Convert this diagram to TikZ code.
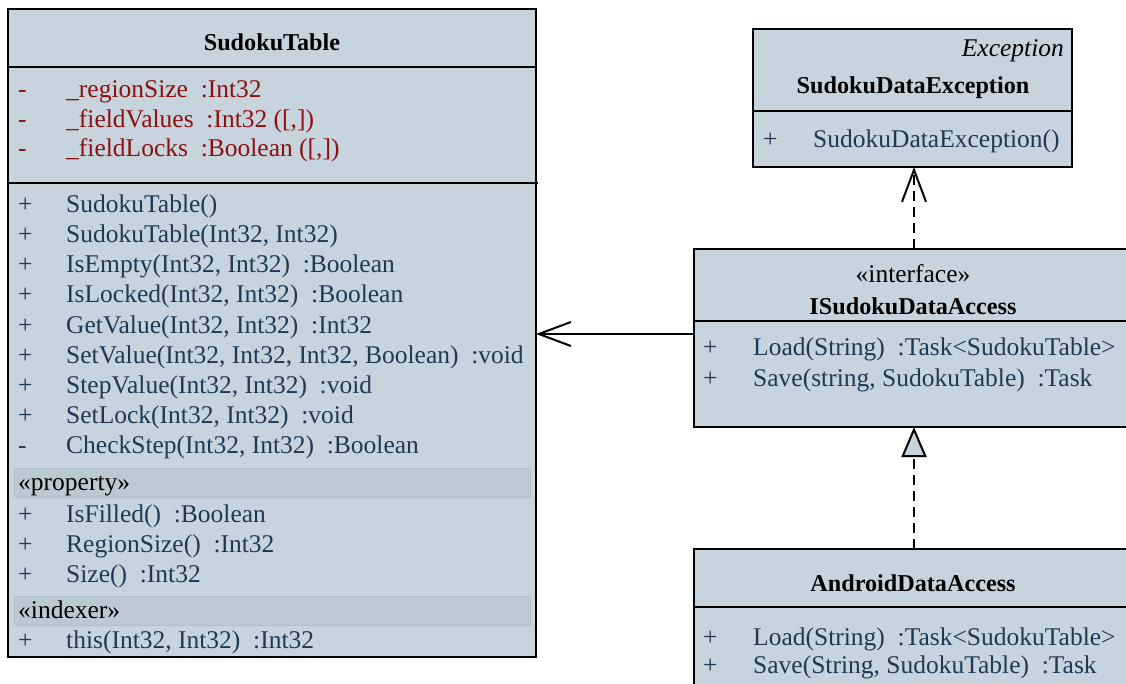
\documentclass[tikz,border=0pt]{standalone}
\usepackage{fontspec}
\setmainfont{Liberation Serif}
\usetikzlibrary{arrows.meta}
\definecolor{boxfill}{RGB}{199,212,222}
\definecolor{bandfill}{RGB}{187,201,211}
\definecolor{bandline}{RGB}{178,193,204}
\definecolor{attrred}{RGB}{140,16,16}
\definecolor{optext}{RGB}{31,58,80}
\begin{document}
\begin{tikzpicture}[x=1pt,y=-1pt,
  classbox/.style={draw=black, line width=2pt, fill=boxfill, rectangle, inner sep=0pt, outer sep=0pt, anchor=north west},
  sepline/.style={draw=black, line width=2pt},
  txt/.style={anchor=base west, inner sep=0pt, font=\fontsize{25.5}{30}\selectfont, text=optext},
  attr/.style={txt, text=attrred},
  stereo/.style={txt, text=black},
  ttl/.style={anchor=base, inner sep=0pt, font=\fontsize{24.2}{30}\selectfont\bfseries, text=black},
  band/.style={fill=bandfill, draw=bandline, line width=1pt},
  conn/.style={line width=2pt, draw=black},
  dashconn/.style={conn, dash pattern=on 10pt off 6pt},
  openhead/.style={-{Straight Barb[length=32pt,width=24pt,line width=2pt]}},
  realhead/.style={-{Triangle[open,length=30pt,width=25pt,line width=2pt,fill=boxfill]}}
]
\clip (0,0) rectangle (1126,684);
\fill[white] (0,0) rectangle (1126,684);

% ---------- SudokuTable ----------
\node[classbox, minimum width=528pt, minimum height=648pt] (st) at (8,9) {};
\draw[sepline] (8,67) -- (536,67);
\draw[sepline] (8,183) -- (538,183);
\node[ttl] (stt) at (272,51) {SudokuTable};
\node[attr] (a1s) at (18,98) {-};
\node[attr] (a1) at (66,98) {\_regionSize~~:Int32};
\node[attr] (a2s) at (18,128) {-};
\node[attr] (a2) at (66,128) {\_fieldValues~~:Int32 ([,])};
\node[attr] (a3s) at (18,157) {-};
\node[attr] (a3) at (66,157) {\_fieldLocks~~:Boolean ([,])};

\node[txt] (m1s) at (18,213) {+};
\node[txt] (m1) at (66,213) {SudokuTable()};
\node[txt] (m2s) at (18,243) {+};
\node[txt] (m2) at (66,243) {SudokuTable(Int32, Int32)};
\node[txt] (m3s) at (18,273) {+};
\node[txt] (m3) at (66,273) {IsEmpty(Int32, Int32)~~:Boolean};
\node[txt] (m4s) at (18,303) {+};
\node[txt] (m4) at (66,303) {IsLocked(Int32, Int32)~~:Boolean};
\node[txt] (m5s) at (18,333) {+};
\node[txt] (m5) at (66,333) {GetValue(Int32, Int32)~~:Int32};
\node[txt] (m6s) at (18,363) {+};
\node[txt] (m6) at (66,363) {SetValue(Int32, Int32, Int32, Boolean)~~:void};
\node[txt] (m7s) at (18,393) {+};
\node[txt] (m7) at (66,393) {StepValue(Int32, Int32)~~:void};
\node[txt] (m8s) at (18,423) {+};
\node[txt] (m8) at (66,423) {SetLock(Int32, Int32)~~:void};
\node[txt] (m9s) at (18,453) {-};
\node[txt] (m9) at (66,453) {CheckStep(Int32, Int32)~~:Boolean};

\draw[band] (14,468) rectangle (530,497);
\node[stereo] (prop) at (18,490) {«property»};
\node[txt] (p1s) at (18,522) {+};
\node[txt] (p1) at (66,522) {IsFilled()~~:Boolean};
\node[txt] (p2s) at (18,552) {+};
\node[txt] (p2) at (66,552) {RegionSize()~~:Int32};
\node[txt] (p3s) at (18,582) {+};
\node[txt] (p3) at (66,582) {Size()~~:Int32};

\draw[band] (14,596) rectangle (530,625);
\node[stereo] (idx) at (18,618) {«indexer»};
\node[txt] (i1s) at (18,648) {+};
\node[txt] (i1) at (66,648) {this(Int32, Int32)~~:Int32};

% ---------- SudokuDataException ----------
\node[classbox, minimum width=319pt, minimum height=138pt] (sde) at (753,29) {};
\draw[sepline] (753,111) -- (1072,111);
\node[txt, anchor=base east, text=black, font=\fontsize{25.5}{30}\selectfont\itshape] (sdes) at (1064,57) {Exception};
\node[ttl] (sdet) at (913,94) {SudokuDataException};
\node[txt] (e1s) at (763,148) {+};
\node[txt] (e1) at (813,148) {SudokuDataException()};

% ---------- ISudokuDataAccess ----------
\node[classbox, minimum width=440pt, minimum height=178pt] (isda) at (694,249) {};
\draw[sepline] (694,321) -- (1134,321);
\node[stereo, anchor=base] (isdas) at (913,283) {«interface»};
\node[ttl] (isdat) at (913,315) {ISudokuDataAccess};
\node[txt] (l1s) at (703,355) {+};
\node[txt] (l1) at (753,355) {Load(String)~~:Task<SudokuTable>};
\node[txt] (l2s) at (703,386) {+};
\node[txt] (l2) at (753,386) {Save(string, SudokuTable)~~:Task};

% ---------- AndroidDataAccess ----------
\node[classbox, minimum width=440pt, minimum height=160pt] (ada) at (694,549) {};
\draw[sepline] (694,607) -- (1134,607);
\node[ttl] (adat) at (913,591) {AndroidDataAccess};
\node[txt] (d1s) at (703,645) {+};
\node[txt] (d1) at (753,645) {Load(String)~~:Task<SudokuTable>};
\node[txt] (d2s) at (703,673) {+};
\node[txt] (d2) at (753,673) {Save(String, SudokuTable)~~:Task};

% ---------- connectors ----------
\coordinate (ay) at (0,334);
\draw[conn, openhead] (isda.west |- ay) -- (st.east |- ay);
\draw[dashconn, openhead] (isda.north) -- (isda.north |- sde.south);
\draw[dashconn, realhead] (ada.north) -- (ada.north |- isda.south);
\end{tikzpicture}
\end{document}
